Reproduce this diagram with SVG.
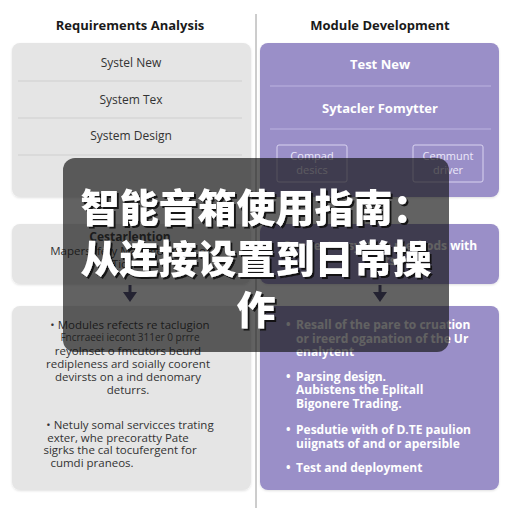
<svg xmlns="http://www.w3.org/2000/svg" width="512" height="512" viewBox="0 0 512 512">
  <defs>
    <filter id="shadow" x="-10%" y="-10%" width="120%" height="130%">
      <feDropShadow dx="0" dy="1" stdDeviation="1" flood-color="#000" flood-opacity="0.12"/>
    </filter>
    <filter id="txtshadow" x="-10%" y="-20%" width="120%" height="150%">
      <feDropShadow dx="2" dy="2" stdDeviation="0.6" flood-color="#111" flood-opacity="0.9"/>
    </filter>
  </defs>
  <style>
    .hdr { font-family: "Open Sans", "Liberation Sans", sans-serif; font-weight: 700; font-size: 13px; fill: #1a1a1a; text-anchor: middle; }
    .gray { fill: #e5e5e5; filter: url(#shadow); }
    .purple { fill: #9a8fc8; filter: url(#shadow); }
    .gdiv { stroke: #cfcfcf; stroke-width: 1; }
    .pdiv { stroke: #bcb3e0; stroke-width: 1; }
    .gt { font-family: "Open Sans", "Liberation Sans", sans-serif; font-size: 12px; fill: #333; text-anchor: middle; }
    .pt { font-family: "Open Sans", "Liberation Sans", sans-serif; font-size: 13px; font-weight: 700; fill: #ffffff; text-anchor: middle; }
    .sbox { fill: none; stroke: #d9d3f0; stroke-width: 1; }
    .st { font-family: "Open Sans", "Liberation Sans", sans-serif; font-size: 11px; fill: #ece8fa; text-anchor: middle; }
    .gb { font-family: "Open Sans", "Liberation Sans", sans-serif; font-size: 11.5px; fill: #333; text-anchor: middle; }
    .gbs { font-family: "Open Sans", "Liberation Sans", sans-serif; font-size: 10px; fill: #444; text-anchor: middle; }
    .pb { font-family: "Open Sans", "Liberation Sans", sans-serif; font-size: 12px; font-weight: 700; fill: #ffffff; }
    .shaft { stroke: #4b4673; stroke-width: 3; fill: none; }
    .head { fill: #4b4673; }
    .title { font-family: "Noto Sans CJK SC", "Noto Sans CJK JP", sans-serif; font-weight: 900; font-size: 39px; fill: #ffffff; text-anchor: middle; filter: url(#txtshadow); }
  </style>
  <rect x="0" y="0" width="512" height="512" fill="#ffffff"/>

  <g id="connectors">
    <line x1="256" y1="14" x2="256" y2="508" stroke="#9a9a9a" stroke-width="1"/>
    <g id="arrow-left">
      <line class="shaft" x1="130" y1="285" x2="130" y2="294"/>
      <polygon class="head" points="123,292 137,292 130,302"/>
    </g>
    <g id="arrow-right">
      <line class="shaft" x1="380" y1="285" x2="380" y2="294"/>
      <polygon class="head" points="373,292 387,292 380,302"/>
    </g>
  </g>

  <g id="header-left"><text class="hdr" x="130" y="30">Requirements Analysis</text></g>
  <g id="header-right"><text class="hdr" x="380" y="30">Module Development</text></g>

  <g id="req-top">
    <rect class="gray" x="12" y="43" width="239" height="154" rx="8"/>
    <text class="gt" x="131" y="67">Systel New</text>
    <line class="gdiv" x1="18" y1="81" x2="242" y2="81"/>
    <text class="gt" x="131" y="104">System Tex</text>
    <line class="gdiv" x1="18" y1="118" x2="242" y2="118"/>
    <text class="gt" x="131" y="140">System Design</text>
    <line class="gdiv" x1="18" y1="155" x2="242" y2="155"/>
  </g>

  <g id="mod-top">
    <rect class="purple" x="260" y="43" width="239" height="154" rx="8"/>
    <text class="pt" x="380" y="69">Test New</text>
    <line class="pdiv" x1="270" y1="86" x2="491" y2="86"/>
    <text class="pt" x="380" y="113">Sytacler Fomytter</text>
    <line class="pdiv" x1="270" y1="129" x2="491" y2="129"/>
    <g id="box-compad">
      <rect class="sbox" x="277" y="145" width="70" height="37" rx="2"/>
      <text class="st" x="312" y="160">Compad</text>
      <text class="st" x="312" y="174">desics</text>
    </g>
    <g id="box-cemmunt">
      <rect class="sbox" x="413" y="145" width="70" height="37" rx="2"/>
      <text class="st" x="448" y="160">Cemmunt</text>
      <text class="st" x="448" y="174">driver</text>
    </g>
  </g>

  <g id="req-mid">
    <rect class="gray" x="12" y="224" width="239" height="60" rx="8"/>
    <text class="gt" x="130" y="241" font-weight="700">Cestarlention</text>
    <text class="gb" x="130" y="255">Mapersafety Managerment of</text>
    <text class="gb" x="125" y="268">Ticor</text>
  </g>

  <g id="mod-mid">
    <rect class="purple" x="260" y="224" width="239" height="60" rx="8"/>
    <text class="pb" x="380" y="250" text-anchor="middle">Connector system methods with</text>
    <text class="pb" x="380" y="265" text-anchor="middle">Ports</text>
  </g>

  <g id="req-bottom">
    <rect class="gray" x="12" y="306" width="239" height="184" rx="8"/>
    <text class="gb" x="130" y="329">• Modules refects re taclugion</text>
    <text class="gbs" x="130" y="341">Fncrraeei iecont 311er 0 prrre</text>
    <text class="gb" x="128" y="355">reyolnset o fmcutors beurd</text>
    <text class="gb" x="128" y="368">redipleness ard soially coorent</text>
    <text class="gb" x="128" y="381">devirsts on a ind denomary</text>
    <text class="gb" x="128" y="394">deturrs.</text>
    <text class="gb" x="130" y="429">• Netuly somal servicces trating</text>
    <text class="gb" x="118" y="442">exter, whe precoratty Pate</text>
    <text class="gb" x="120" y="454">sigrks the cal tocufergent for</text>
    <text class="gb" x="92" y="467">cumdi praneos.</text>
  </g>

  <g id="mod-bottom">
    <rect class="purple" x="260" y="306" width="239" height="184" rx="8"/>
    <text class="pb" x="286" y="329">•</text>
    <text class="pb" x="296" y="329">Resall of the pare to cruation</text>
    <text class="pb" x="296" y="343">or ireerd oganation of the Ur</text>
    <text class="pb" x="296" y="356" font-size="10">enalytent</text>
    <text class="pb" x="286" y="381">•</text>
    <text class="pb" x="296" y="381">Parsing design.</text>
    <text class="pb" x="296" y="394">Aubistens the Eplitall</text>
    <text class="pb" x="296" y="408">Bigonere Trading.</text>
    <text class="pb" x="286" y="434">•</text>
    <text class="pb" x="296" y="434">Pesdutie with of D.TE paulion</text>
    <text class="pb" x="296" y="448">uiignats of and or apersible</text>
    <text class="pb" x="286" y="472">•</text>
    <text class="pb" x="296" y="472">Test and deployment</text>
  </g>

  <g id="overlay">
    <rect x="63" y="158" width="386" height="194" rx="12" fill="#111111" fill-opacity="0.66"/>
    <text class="title" x="256" y="222">智能音箱使用指南：</text>
    <text class="title" x="256" y="273">从连接设置到日常操</text>
    <text class="title" x="256" y="324">作</text>
  </g>
</svg>
